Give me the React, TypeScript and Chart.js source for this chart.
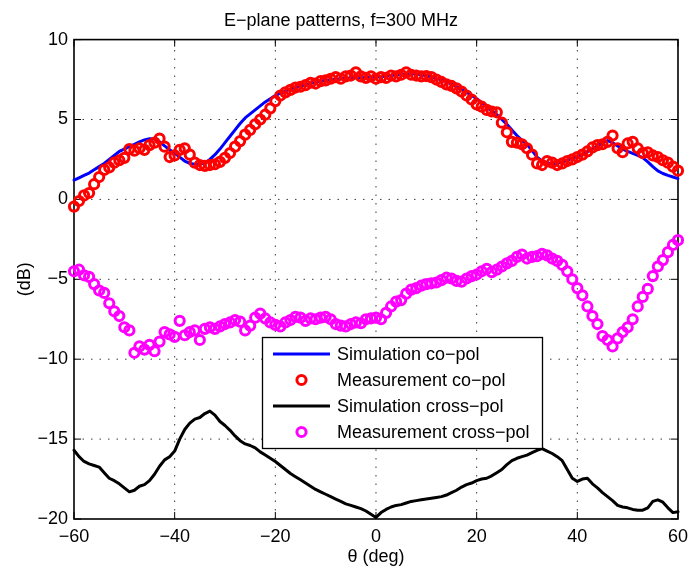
import React, { useEffect, useRef } from 'react';
import { Chart, registerables } from 'chart.js';

Chart.register(...registerables);

const FONT = "'Liberation Sans', Arial, Helvetica, sans-serif";

const titleText = 'E\u2212plane patterns, f=300 MHz';
const xAxisLabel = '\u03b8 (deg)';
const yAxisLabel = '(dB)';
const seriesNames = ['Simulation co\u2212pol', 'Measurement co\u2212pol', 'Simulation cross\u2212pol', 'Measurement cross\u2212pol'];

const thetaDeg = [
  -60, -59, -58, -57, -56, -55, -54, -53, -52, -51, -50, -49, -48, -47, -46, -45, -44, -43, -42, -41,
  -40, -39, -38, -37, -36, -35, -34, -33, -32, -31, -30, -29, -28, -27, -26, -25, -24, -23, -22, -21,
  -20, -19, -18, -17, -16, -15, -14, -13, -12, -11, -10, -9, -8, -7, -6, -5, -4, -3, -2, -1,
  0, 1, 2, 3, 4, 5, 6, 7, 8, 9, 10, 11, 12, 13, 14, 15, 16, 17, 18, 19,
  20, 21, 22, 23, 24, 25, 26, 27, 28, 29, 30, 31, 32, 33, 34, 35, 36, 37, 38, 39,
  40, 41, 42, 43, 44, 45, 46, 47, 48, 49, 50, 51, 52, 53, 54, 55, 56, 57, 58, 59, 60,
];

const simCoPol = [
  1.20, 1.35, 1.50, 1.65, 1.85, 2.05, 2.25, 2.50, 2.75, 3.00, 3.15, 3.30, 3.45, 3.60, 3.72, 3.80, 3.78, 3.60, 3.35, 3.10,
  2.90, 2.65, 2.40, 2.25, 2.20, 2.20, 2.30, 2.50, 2.80, 3.15, 3.55, 3.95, 4.35, 4.75, 5.10, 5.35, 5.60, 5.85, 6.10, 6.30,
  6.50, 6.65, 6.78, 6.90, 7.00, 7.08, 7.18, 7.26, 7.34, 7.40, 7.45, 7.48, 7.52, 7.55, 7.58, 7.60, 7.62, 7.62, 7.63, 7.64,
  7.65, 7.68, 7.72, 7.75, 7.78, 7.82, 7.85, 7.86, 7.84, 7.80, 7.74, 7.66, 7.56, 7.48, 7.36, 7.22, 7.06, 6.88, 6.70, 6.50,
  6.30, 6.05, 5.80, 5.55, 5.30, 5.00, 4.70, 4.35, 4.00, 3.70, 3.45, 3.05, 2.65, 2.40, 2.28, 2.22, 2.25, 2.35, 2.45, 2.58,
  2.68, 2.82, 2.98, 3.15, 3.35, 3.55, 3.68, 3.55, 3.35, 3.15, 3.00, 2.88, 2.75, 2.62, 2.35, 2.05, 1.78, 1.62, 1.50, 1.40, 1.30,
];

const measCoPol = [
  -0.45, -0.10, 0.25, 0.40, 0.95, 1.40, 1.85, 2.00, 2.30, 2.45, 2.60, 3.15, 3.05, 3.20, 3.10, 3.40, 3.55, 3.80, 3.30, 2.65,
  2.75, 3.10, 3.20, 2.80, 2.30, 2.15, 2.10, 2.15, 2.20, 2.35, 2.60, 2.90, 3.30, 3.65, 4.05, 4.35, 4.70, 5.00, 5.30, 5.70,
  6.15, 6.50, 6.70, 6.85, 7.00, 7.05, 7.15, 7.30, 7.25, 7.40, 7.45, 7.55, 7.65, 7.55, 7.70, 7.75, 7.95, 7.70, 7.60, 7.70,
  7.55, 7.65, 7.60, 7.75, 7.70, 7.80, 7.95, 7.80, 7.75, 7.70, 7.72, 7.65, 7.50, 7.35, 7.20, 7.10, 6.95, 6.75, 6.50, 6.25,
  5.95, 5.80, 5.60, 5.50, 5.45, 4.80, 4.20, 3.60, 3.55, 3.45, 3.20, 2.80, 2.25, 2.15, 2.40, 2.30, 2.15, 2.25, 2.40, 2.50,
  2.65, 2.80, 3.00, 3.25, 3.40, 3.45, 3.60, 4.00, 3.20, 2.95, 3.50, 3.60, 3.20, 2.90, 2.95, 2.75, 2.65, 2.45, 2.30, 2.05, 1.80,
];

const simCrossPol = [
  -15.70, -16.10, -16.40, -16.55, -16.65, -16.75, -17.10, -17.45, -17.60, -17.80, -18.05, -18.30, -18.20, -17.95, -17.85, -17.60, -17.20, -16.70, -16.30, -16.10,
  -15.75, -15.00, -14.40, -14.00, -13.75, -13.65, -13.40, -13.25, -13.50, -13.90, -14.15, -14.45, -14.80, -15.10, -15.30, -15.40, -15.55, -15.80, -16.00, -16.20,
  -16.40, -16.65, -16.90, -17.15, -17.35, -17.55, -17.75, -17.95, -18.15, -18.30, -18.45, -18.60, -18.75, -18.90, -19.05, -19.15, -19.25, -19.35, -19.50, -19.70,
  -19.90, -19.60, -19.40, -19.25, -19.15, -19.10, -19.00, -18.90, -18.85, -18.80, -18.75, -18.70, -18.65, -18.60, -18.50, -18.35, -18.20, -18.00, -17.85, -17.75,
  -17.60, -17.50, -17.45, -17.30, -17.10, -16.90, -16.60, -16.35, -16.20, -16.10, -16.00, -15.85, -15.70, -15.60, -15.75, -15.90, -16.10, -16.35, -16.90, -17.45,
  -17.65, -17.50, -17.45, -17.80, -18.05, -18.35, -18.60, -18.85, -19.15, -19.25, -19.30, -19.40, -19.45, -19.45, -19.30, -18.90, -18.80, -18.95, -19.30, -19.60, -19.55,
];

const measCrossPol = [
  -4.50, -4.40, -4.75, -4.85, -5.30, -5.70, -5.85, -6.50, -7.00, -7.30, -8.00, -8.20, -9.60, -9.20, -9.40, -9.10, -9.50, -8.90, -8.30, -8.45,
  -8.60, -7.60, -8.50, -8.30, -8.20, -8.80, -8.10, -8.00, -8.10, -7.95, -7.80, -7.70, -7.55, -7.65, -8.20, -7.90, -7.40, -7.15, -7.45, -7.70,
  -7.85, -7.95, -7.70, -7.55, -7.35, -7.40, -7.60, -7.45, -7.50, -7.40, -7.35, -7.50, -7.80, -7.90, -7.95, -7.80, -7.70, -7.75, -7.50, -7.45,
  -7.40, -7.50, -7.10, -6.70, -6.40, -6.30, -5.90, -5.65, -5.55, -5.40, -5.30, -5.25, -5.20, -5.05, -4.90, -4.95, -5.10, -5.15, -4.95, -4.80,
  -4.70, -4.50, -4.35, -4.55, -4.40, -4.20, -4.00, -3.85, -3.60, -3.45, -3.70, -3.60, -3.55, -3.40, -3.50, -3.70, -3.85, -4.10, -4.50, -5.00,
  -5.55, -6.00, -6.70, -7.30, -7.80, -8.55, -8.80, -9.20, -8.70, -8.30, -8.00, -7.50, -6.70, -6.10, -5.60, -4.80, -4.20, -3.80, -3.30, -2.85, -2.55,
];

const xTicks = [-60, -40, -20, 0, 20, 40, 60];
const yTicks = [-20, -15, -10, -5, 0, 5, 10];

const minusSign = (v: number) => String(v).replace('-', '\u2212');

const toPoints = (ys: number[]) => thetaDeg.map((x, i) => ({ x, y: ys[i] }));

const axesPlugin = {
  id: 'matlabAxes',
  beforeDatasetsDraw(chart: any) {
    const { ctx, chartArea: a, scales } = chart;
    const xs = scales.x;
    const ys = scales.y;
    ctx.save();
    ctx.strokeStyle = '#3a3a3a';
    ctx.lineWidth = 1;
    ctx.setLineDash([1.5, 7]);
    xTicks.forEach((v) => {
      const px = xs.getPixelForValue(v);
      if (px > a.left + 2 && px < a.right - 2) {
        ctx.beginPath();
        ctx.moveTo(px, a.bottom);
        ctx.lineTo(px, a.top);
        ctx.stroke();
      }
    });
    yTicks.forEach((v) => {
      const py = ys.getPixelForValue(v);
      if (py > a.top + 2 && py < a.bottom - 2) {
        ctx.beginPath();
        ctx.moveTo(a.left, py);
        ctx.lineTo(a.right, py);
        ctx.stroke();
      }
    });
    ctx.setLineDash([]);
    ctx.strokeStyle = '#000';
    ctx.lineWidth = 1;
    const tl = 7;
    xTicks.forEach((v) => {
      const px = xs.getPixelForValue(v);
      ctx.beginPath();
      ctx.moveTo(px, a.bottom);
      ctx.lineTo(px, a.bottom - tl);
      ctx.moveTo(px, a.top);
      ctx.lineTo(px, a.top + tl);
      ctx.stroke();
    });
    yTicks.forEach((v) => {
      const py = ys.getPixelForValue(v);
      ctx.beginPath();
      ctx.moveTo(a.left, py);
      ctx.lineTo(a.left + tl, py);
      ctx.moveTo(a.right, py);
      ctx.lineTo(a.right - tl, py);
      ctx.stroke();
    });
    ctx.lineWidth = 1.6;
    ctx.strokeRect(a.left, a.top, a.right - a.left, a.bottom - a.top);
    ctx.restore();
  },
};

const legendPlugin = {
  id: 'matlabLegend',
  afterDraw(chart: any) {
    const { ctx } = chart;
    const box = { x: 262.5, y: 337.5, w: 280, h: 111 };
    ctx.save();
    ctx.fillStyle = '#fff';
    ctx.fillRect(box.x, box.y, box.w, box.h);
    ctx.strokeStyle = '#000';
    ctx.lineWidth = 1.3;
    ctx.strokeRect(box.x, box.y, box.w, box.h);
    chart.data.datasets.forEach((ds: any, i: number) => {
      const y = 354 + i * 26;
      if (ds.showLine !== false) {
        ctx.strokeStyle = ds.borderColor;
        ctx.lineWidth = ds.borderWidth;
        ctx.beginPath();
        ctx.moveTo(273, y);
        ctx.lineTo(330, y);
        ctx.stroke();
      } else {
        ctx.strokeStyle = ds.pointBorderColor;
        ctx.lineWidth = ds.pointBorderWidth;
        ctx.beginPath();
        ctx.arc(301.5, y, ds.pointRadius, 0, Math.PI * 2);
        ctx.stroke();
      }
      ctx.fillStyle = '#000';
      ctx.font = `18px ${FONT}`;
      ctx.textAlign = 'left';
      ctx.textBaseline = 'middle';
      ctx.fillText(ds.label, 337, y + 1);
    });
    ctx.restore();
  },
};

export default function App() {
  const canvasRef = useRef<HTMLCanvasElement | null>(null);

  useEffect(() => {
    if (!canvasRef.current) return;
    Chart.defaults.font.family = FONT;
    Chart.defaults.color = '#000';
    const lineCommon = { showLine: true, pointRadius: 0, borderWidth: 3, tension: 0, borderJoinStyle: 'round', borderCapStyle: 'round', clip: false };
    const markCommon = { showLine: false, pointRadius: 4.6, pointBorderWidth: 3, pointBackgroundColor: 'rgba(0,0,0,0)', pointHoverRadius: 4.6, clip: false };
    const chart = new Chart(canvasRef.current, {
      type: 'scatter',
      data: {
        datasets: [
          { ...lineCommon, label: seriesNames[0], data: toPoints(simCoPol), borderColor: '#0000ff', backgroundColor: '#0000ff', order: 4 },
          { ...markCommon, label: seriesNames[1], data: toPoints(measCoPol), pointBorderColor: '#ff0000', borderColor: '#ff0000', order: 3 },
          { ...lineCommon, label: seriesNames[2], data: toPoints(simCrossPol), borderColor: '#000000', backgroundColor: '#000000', order: 2 },
          { ...markCommon, label: seriesNames[3], data: toPoints(measCrossPol), pointBorderColor: '#ff00ff', borderColor: '#ff00ff', order: 1 },
        ] as any,
      },
      options: {
        responsive: false,
        animation: false,
        events: [],
        layout: { padding: { left: 0, right: 13, top: 0, bottom: 0 } },
        plugins: {
          legend: { display: false },
          tooltip: { enabled: false },
          title: {
            display: true,
            text: titleText,
            color: '#000',
            font: { size: 18, weight: 'normal', family: FONT, lineHeight: 1.2 },
            padding: { top: 10, bottom: 8 },
          },
        },
        scales: {
          x: {
            type: 'linear',
            min: -60,
            max: 60,
            afterBuildTicks: (s: any) => { s.ticks = xTicks.map((v) => ({ value: v })); },
            afterFit: (s: any) => { s.height = 50; },
            grid: { display: false, drawTicks: false },
            border: { display: false },
            ticks: {
              color: '#000',
              padding: 7,
              maxRotation: 0,
              font: { size: 18, family: FONT },
              callback: (v: any) => minusSign(Number(v)),
            },
            title: {
              display: true,
              text: xAxisLabel,
              color: '#000',
              font: { size: 18, family: FONT, lineHeight: 1.2 },
              padding: { top: 0, bottom: 1 },
            },
          },
          y: {
            type: 'linear',
            min: -20,
            max: 10,
            afterBuildTicks: (s: any) => { s.ticks = yTicks.map((v) => ({ value: v })); },
            afterFit: (s: any) => { s.width = 74; },
            grid: { display: false, drawTicks: false },
            border: { display: false },
            ticks: {
              color: '#000',
              padding: 6,
              font: { size: 18, family: FONT },
              callback: (v: any) => minusSign(Number(v)),
            },
            title: {
              display: true,
              text: yAxisLabel,
              color: '#000',
              font: { size: 18, family: FONT, lineHeight: 1.2 },
              padding: { top: 14, bottom: 0 },
            },
          },
        },
      } as any,
      plugins: [axesPlugin, legendPlugin],
    });
    return () => chart.destroy();
  }, []);

  return (
    <div style={{ position: 'absolute', left: 0, top: 0, width: 695, height: 569, background: '#fff' }}>
      <canvas ref={canvasRef} width={695} height={569} style={{ display: 'block' }} />
    </div>
  );
}
